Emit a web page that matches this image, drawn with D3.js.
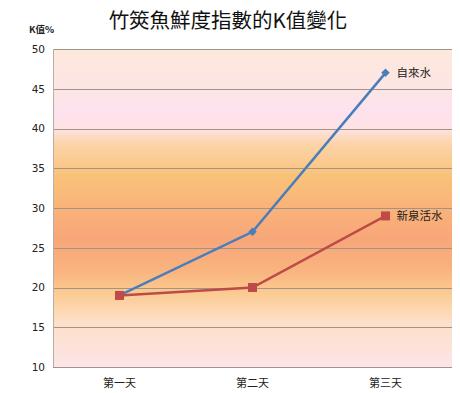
<!DOCTYPE html>
<html><head><meta charset="utf-8">
<script src="https://cdn.jsdelivr.net/npm/d3@7"></script>
<style>body{margin:0;background:#fff;}svg{display:block;}</style>
</head><body>
<script>
const categories = ["第一天", "第二天", "第三天"];
const tapWater = [19, 27, 47];
const springWater = [19, 20, 29];
const seriesNames = ["自來水", "新泉活水"];
const yTicks = [10, 15, 20, 25, 30, 35, 40, 45, 50];

const W = 460, H = 393;
const m = {left: 53, right: 8, top: 49, bottom: 26};
const svg = d3.select("body").append("svg").attr("width", W).attr("height", H);
const font = "'Noto Sans CJK TC','Noto Sans CJK SC',sans-serif";

const x = d3.scaleBand().domain(categories).range([m.left, W - m.right]);
const y = d3.scaleLinear().domain([10, 50]).range([H - m.bottom, m.top]);

const defs = svg.append("defs");
const g = defs.append("linearGradient").attr("id", "bg").attr("x1", 0).attr("y1", 0).attr("x2", 0).attr("y2", 1);
[[0, "#fde8dc"], [0.1, "#fde6e2"], [0.2, "#fde2ee"], [0.25, "#fde3e2"], [0.3, "#fcd4a8"], [0.4, "#f9c27a"], [0.5, "#f9b379"], [0.6, "#f8a679"], [0.7, "#f9b47f"], [0.76, "#fbc98e"], [0.86, "#fde0c8"], [1, "#fde4e8"]]
  .forEach(([o, c]) => g.append("stop").attr("offset", o).attr("stop-color", c));

svg.append("rect").attr("x", m.left).attr("y", m.top)
  .attr("width", W - m.right - m.left).attr("height", H - m.bottom - m.top)
  .attr("fill", "url(#bg)");

// gridlines
svg.append("g").selectAll("line").data(yTicks).join("line")
  .attr("x1", m.left).attr("x2", W - m.right)
  .attr("y1", d => Math.round(y(d)) + 0.5).attr("y2", d => Math.round(y(d)) + 0.5)
  .attr("stroke", "#a09488").attr("stroke-width", 1.2);

// left axis line
svg.append("line").attr("x1", m.left + 0.5).attr("x2", m.left + 0.5)
  .attr("y1", m.top).attr("y2", H - m.bottom).attr("stroke", "#b8b0a8");

// y labels
const yAxis = d3.axisLeft(y).tickValues(yTicks).tickSize(0).tickPadding(8);
const ya = svg.append("g").attr("transform", `translate(${m.left},0)`).call(yAxis);
ya.select(".domain").remove();
ya.selectAll("text").attr("font-family", "'DejaVu Sans',sans-serif").attr("font-size", 10.5).attr("fill", "#222");

// x labels
const xAxis = d3.axisBottom(x).tickSize(0).tickPadding(12);
const xa = svg.append("g").attr("transform", `translate(0,${H - m.bottom})`).call(xAxis);
xa.select(".domain").remove();
xa.selectAll("text").attr("font-family", font).attr("font-size", 11).attr("fill", "#222");

const cx = d => x(d) + x.bandwidth() / 2;
const line = d3.line().x((d, i) => cx(categories[i])).y(d => y(d));

svg.append("path").datum(tapWater).attr("d", line).attr("fill", "none")
  .attr("stroke", "#4a7ebb").attr("stroke-width", 2.5);
svg.append("path").datum(springWater).attr("d", line).attr("fill", "none")
  .attr("stroke", "#be4b48").attr("stroke-width", 2.5);

svg.append("g").selectAll("path").data(tapWater).join("path")
  .attr("d", d3.symbol(d3.symbolSquare, 36))
  .attr("transform", (d, i) => `translate(${cx(categories[i])},${y(d)}) rotate(45)`)
  .attr("fill", "#4a7ebb");
svg.append("g").selectAll("rect").data(springWater).join("rect")
  .attr("x", (d, i) => cx(categories[i]) - 4.5).attr("y", d => y(d) - 4.5)
  .attr("width", 9).attr("height", 9).attr("fill", "#be4b48");

// series labels
const last = categories.length - 1;
svg.append("text").attr("x", cx(categories[last]) + 11).attr("y", y(tapWater[last]) + 4)
  .attr("font-family", font).attr("font-size", 11.5).attr("fill", "#222").text(seriesNames[0]);
svg.append("text").attr("x", cx(categories[last]) + 11).attr("y", y(springWater[last]) + 4)
  .attr("font-family", font).attr("font-size", 11.5).attr("fill", "#222").text(seriesNames[1]);

// title
svg.append("text").attr("x", 228).attr("y", 28).attr("text-anchor", "middle")
  .attr("font-family", font).attr("font-size", 20.5).attr("fill", "#111").text("竹筴魚鮮度指數的K值變化");
svg.append("text").attr("x", 29).attr("y", 33)
  .attr("font-family", font).attr("font-size", 9.5).attr("font-weight", "bold").attr("fill", "#222").text("K值%");
</script>
</body></html>
